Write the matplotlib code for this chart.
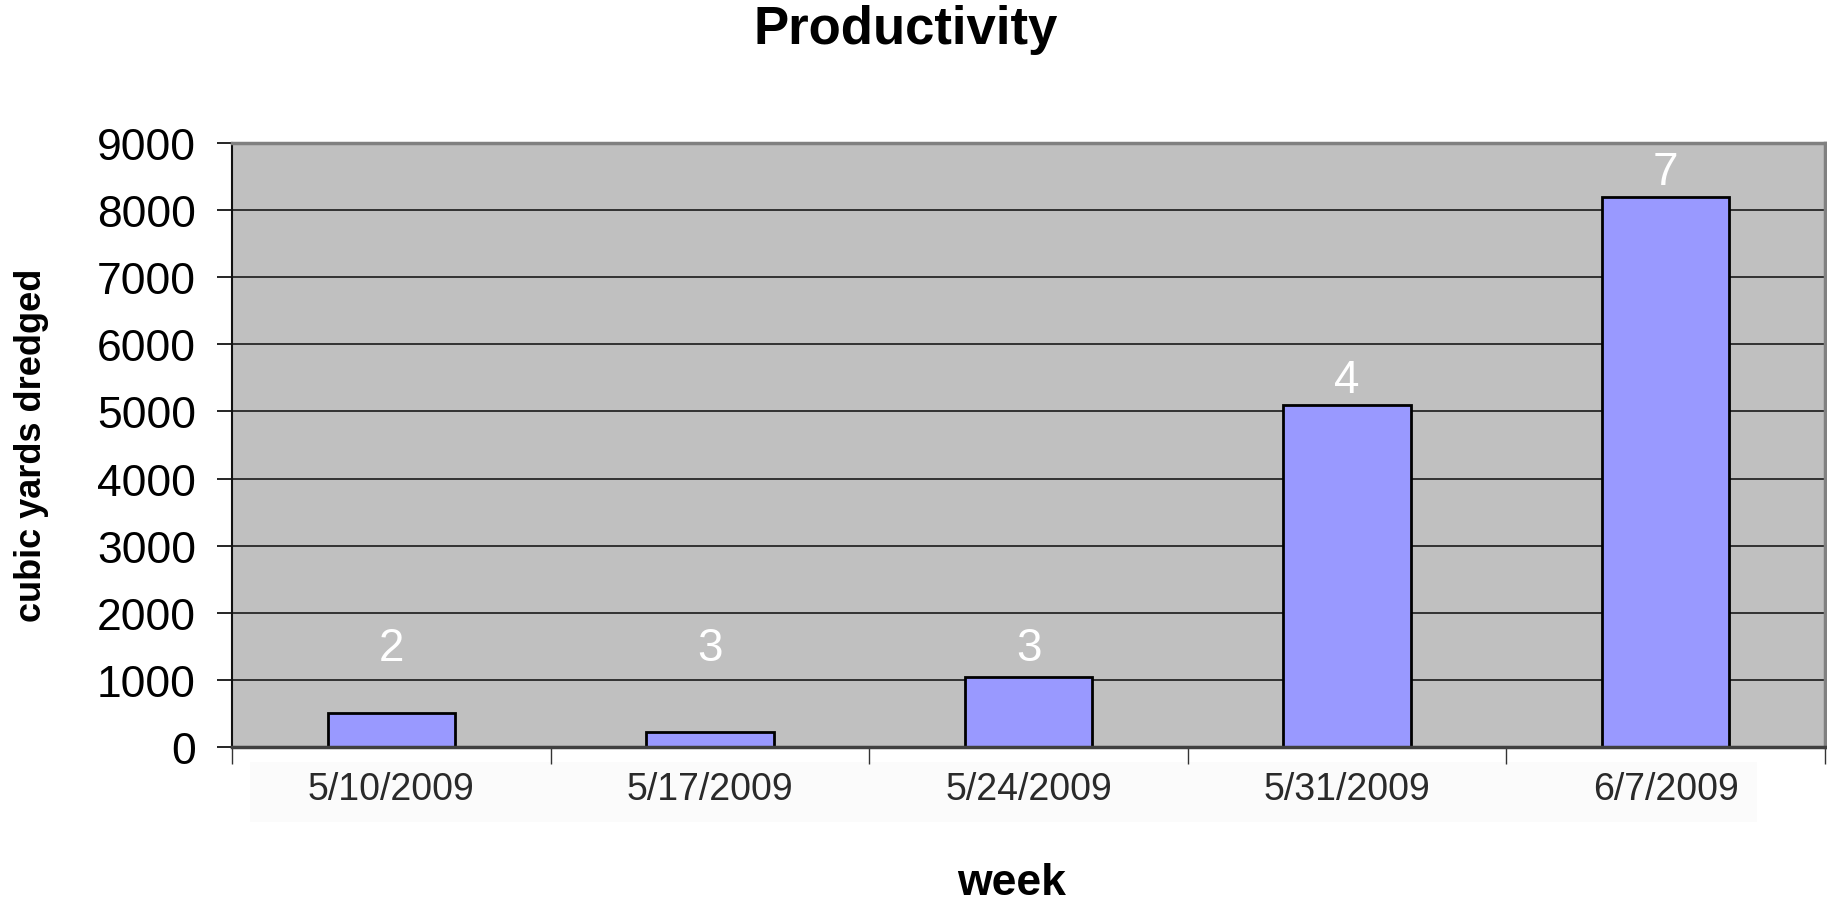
import matplotlib
matplotlib.use("Agg")
import matplotlib.pyplot as plt
from matplotlib.patches import Rectangle

# Data
weeks = ["5/10/2009", "5/17/2009", "5/24/2009", "5/31/2009", "6/7/2009"]
cubic_yards = [500, 230, 1040, 5100, 8200]
bar_labels = ["2", "3", "3", "4", "7"]
y_ticks = [0, 1000, 2000, 3000, 4000, 5000, 6000, 7000, 8000, 9000]

plt.rcParams["font.family"] = ["Liberation Sans", "DejaVu Sans"]

W, H = 1827, 903
fig = plt.figure(figsize=(W / 100, H / 100), dpi=100)
ax = fig.add_axes([232 / W, 1 - 748 / H, (1825 - 232) / W, (748 - 144) / H])

# faint box behind the category labels
fig.patches.append(Rectangle((250 / W, 1 - 823 / H), (1757 - 250) / W, 60 / H,
                             transform=fig.transFigure, facecolor="#fbfbfb",
                             edgecolor="none", zorder=-1))

x = list(range(len(weeks)))
ax.set_facecolor("#c0c0c0")
ax.bar(x, cubic_yards, width=0.4, color="#9999ff", edgecolor="black",
       linewidth=2, zorder=3)

for xi, v, lab in zip(x, cubic_yards, bar_labels):
    ax.text(xi, max(v, 1100) + 40, lab, ha="center", va="bottom",
            color="white", fontsize=33, zorder=4)

ax.set_xlim(-0.5, len(weeks) - 0.5)
ax.set_ylim(0, 9000)
ax.set_yticks(y_ticks)
ax.yaxis.grid(True, color="#1a1a1a", linewidth=1.2, zorder=1)
ax.set_axisbelow(True)

ax.set_xticks(x)
ax.set_xticklabels(weeks, fontsize=27, color="#2a2a2a")
ax.set_xticks([i - 0.5 for i in range(len(weeks) + 1)], minor=True)
ax.tick_params(axis="x", which="major", length=0, pad=17)
ax.tick_params(axis="x", which="minor", length=12, width=1, color="#333333")
ax.tick_params(axis="y", labelsize=32, length=11, width=1.2, pad=15)

ax.spines["left"].set_color("#111111")
ax.spines["left"].set_linewidth(1.5)
ax.spines["bottom"].set_color("#404040")
ax.spines["bottom"].set_linewidth(2.5)
ax.spines["bottom"].set_zorder(5)
for s in ("top", "right"):
    ax.spines[s].set_color("#808080")
    ax.spines[s].set_linewidth(2.5)

fig.text(906 / W, 1 - 30 / H, "Productivity", ha="center", va="center",
         fontsize=38, fontweight="bold")
fig.text(1012 / W, 1 - 884 / H, "week", ha="center", va="center",
         fontsize=32, fontweight="bold")
fig.text(32 / W, 1 - 445 / H, "cubic yards dredged", ha="center", va="center",
         rotation=90, fontsize=26, fontweight="bold")

fig.savefig("out.png", dpi=100)
